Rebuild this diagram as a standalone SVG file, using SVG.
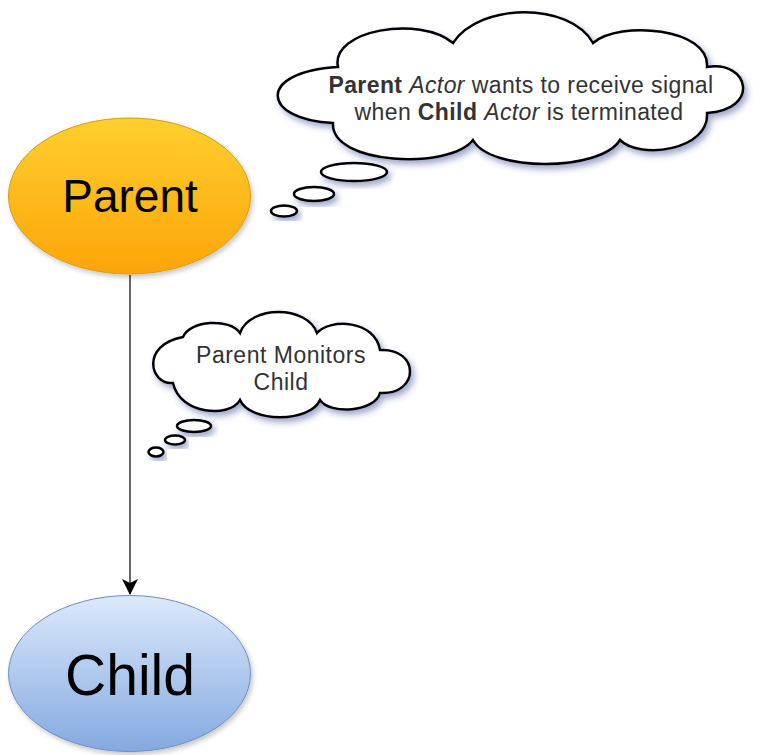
<svg xmlns="http://www.w3.org/2000/svg" width="768" height="755" viewBox="0 0 768 755">
  <style>
    .cloud { fill: #ffffff; stroke: #000000; stroke-width: 2.5; filter: url(#cshadow); }
    .ctext { font-family: "Liberation Sans", Arial, Helvetica, sans-serif; font-size: 23px; letter-spacing: 0.4px; fill: #333333; text-anchor: middle; }
    .ntext { font-family: "Liberation Sans", Arial, Helvetica, sans-serif; fill: #000000; text-anchor: middle; }
    .edge { stroke: #000000; stroke-width: 1.2; fill: none; }
  </style>
  <defs>
    <linearGradient id="gParent" x1="0" y1="0" x2="0" y2="1">
      <stop offset="0" stop-color="#ffcf2e"/>
      <stop offset="1" stop-color="#fca50a"/>
    </linearGradient>
    <linearGradient id="gChild" x1="0" y1="0" x2="0" y2="1">
      <stop offset="0" stop-color="#dce9fb"/>
      <stop offset="1" stop-color="#84a9e0"/>
    </linearGradient>
    <filter id="nshadow" x="-20%" y="-20%" width="140%" height="150%">
      <feDropShadow dx="2" dy="3" stdDeviation="2.5" flood-color="#000000" flood-opacity="0.22"/>
    </filter>
    <filter id="cshadow" x="-20%" y="-30%" width="140%" height="170%">
      <feDropShadow dx="3" dy="4" stdDeviation="3" flood-color="#2f3f88" flood-opacity="0.45"/>
    </filter>
    <marker id="arrow" viewBox="0 0 16 16" refX="15" refY="8" markerWidth="16" markerHeight="16" markerUnits="userSpaceOnUse" orient="auto">
      <path d="M0,0 L16,8 L0,16 L4,8 Z" fill="#000000"/>
    </marker>
  </defs>

  <g id="connectors">
    <line class="edge" x1="130" y1="275" x2="130" y2="594" marker-end="url(#arrow)"/>
  </g>

  <g id="parent">
    <ellipse cx="129.5" cy="196" rx="121" ry="78" fill="url(#gParent)" stroke="#d99a08" stroke-width="1" filter="url(#nshadow)"/>
    <text class="ntext" x="130" y="212" font-size="46">Parent</text>
  </g>

  <g id="child">
    <ellipse cx="129.5" cy="673.5" rx="121" ry="78" fill="url(#gChild)" stroke="#6c8ebf" stroke-width="1" filter="url(#nshadow)"/>
    <text class="ntext" x="130" y="695" font-size="57">Child</text>
  </g>

  <g id="thought-signal">
    <path class="cloud" d="M333,123 C262,120 255,72 338,67 C330,30 420,15 453,43 C480,2 570,2 593,43 C620,20 710,28 707,67 C750,60 760,110 707,113 C710,150 640,160 620,140 C600,172 490,172 473,140 C450,170 330,165 333,123 Z"/>
    <ellipse class="cloud" cx="354" cy="172" rx="33" ry="9"/>
    <ellipse class="cloud" cx="314" cy="194" rx="20" ry="7"/>
    <ellipse class="cloud" cx="284" cy="211" rx="13" ry="5.5"/>
    <text class="ctext" x="521" y="93"><tspan font-weight="bold">Parent</tspan> <tspan font-style="italic">Actor</tspan> wants to receive signal</text>
    <text class="ctext" x="519" y="120">when <tspan font-weight="bold">Child</tspan> <tspan font-style="italic">Actor</tspan> is terminated</text>
  </g>

  <g id="thought-monitors">
    <path class="cloud" d="M173,383 C150,385 140,345 183,337 C190,320 230,318 240,333 C250,305 307,305 317,333 C330,318 375,320 380,350 C420,348 420,395 380,393 C375,412 330,415 320,400 C310,423 250,423 240,400 C230,418 180,415 173,383 Z"/>
    <ellipse class="cloud" cx="194" cy="426" rx="17" ry="6"/>
    <ellipse class="cloud" cx="175" cy="440" rx="10" ry="4.5"/>
    <ellipse class="cloud" cx="156" cy="452" rx="7.5" ry="4.5"/>
    <text class="ctext" x="281" y="363" fill="#444444" style="letter-spacing:0.5px">Parent Monitors</text>
    <text class="ctext" x="281" y="390" fill="#444444" style="letter-spacing:0.5px">Child</text>
  </g>
</svg>
